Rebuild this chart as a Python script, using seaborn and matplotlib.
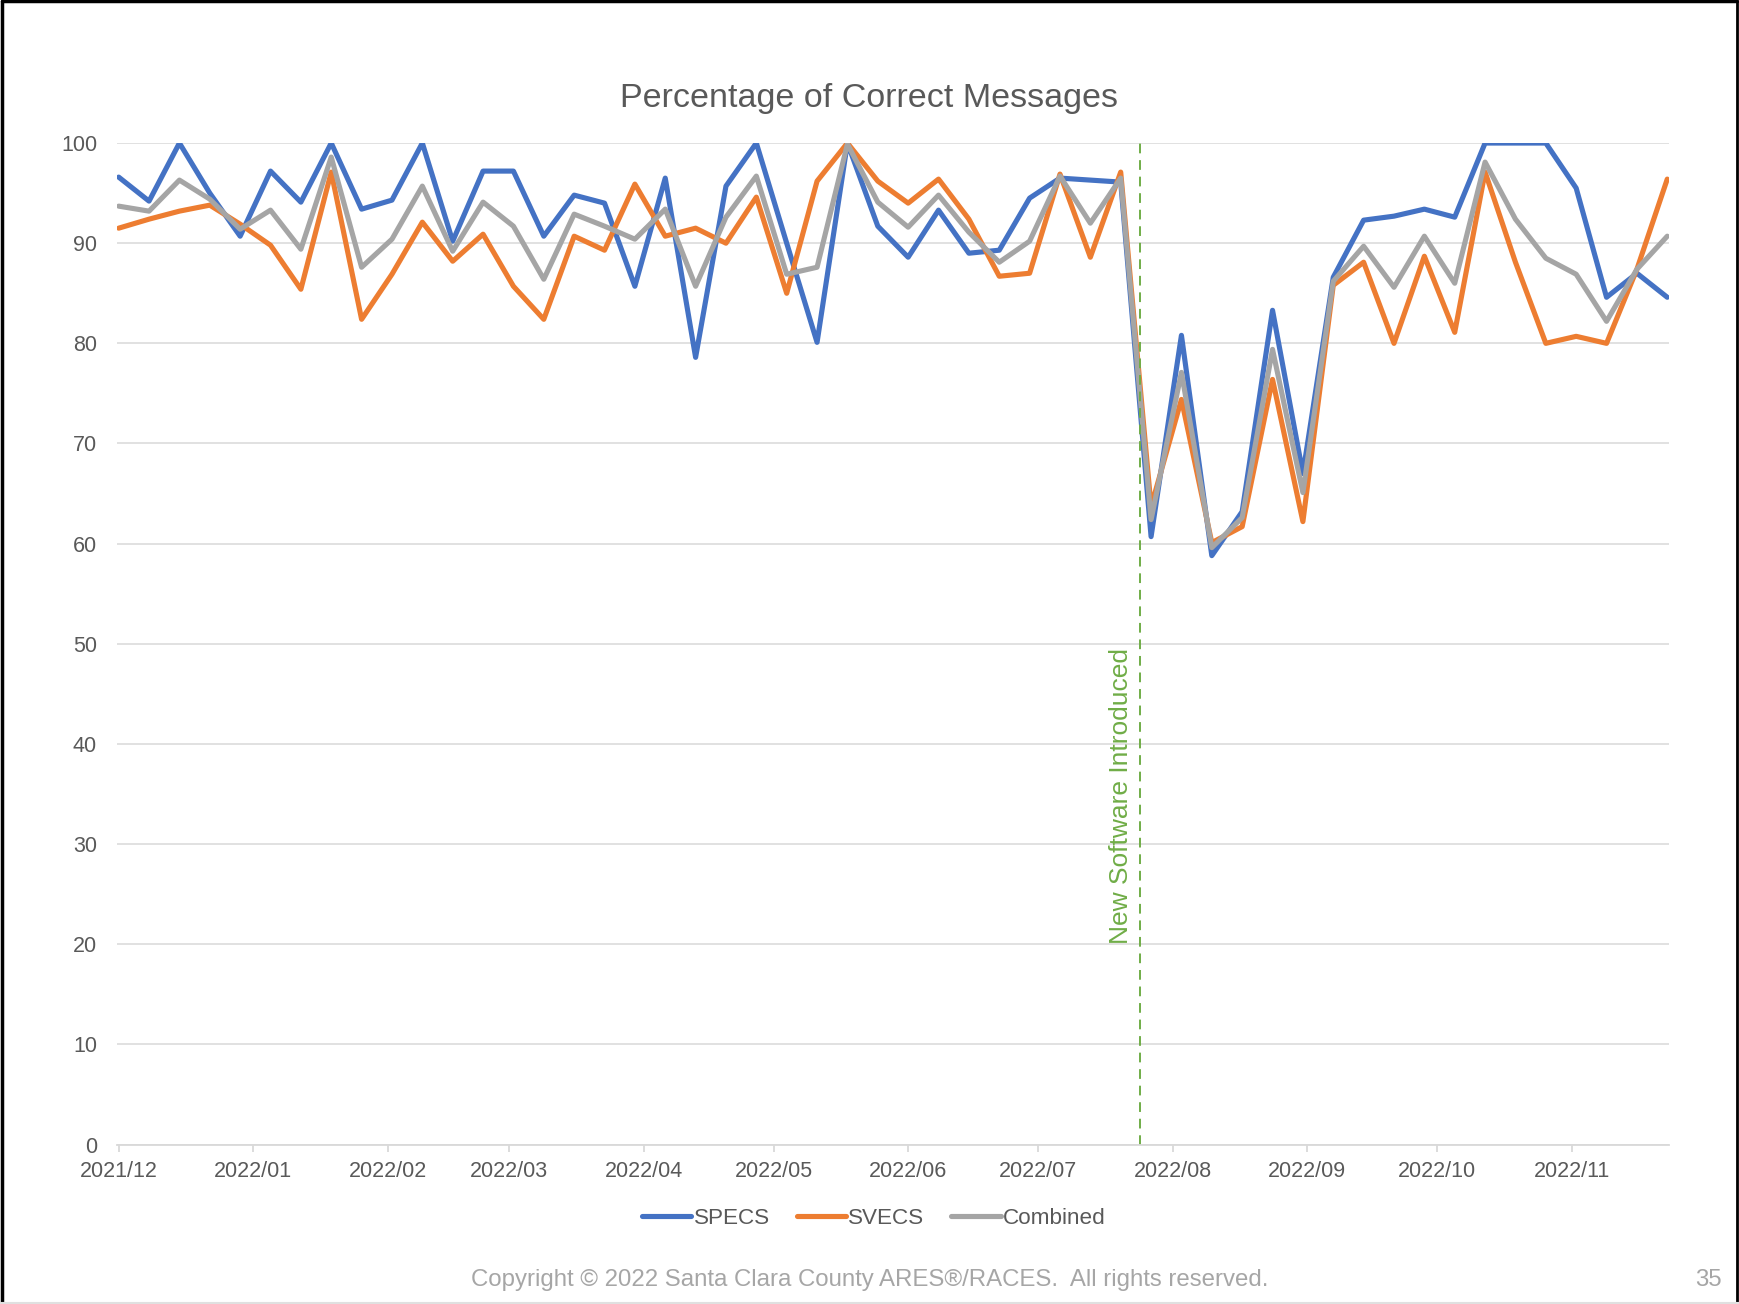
import matplotlib
matplotlib.use("Agg")
import matplotlib.pyplot as plt
import matplotlib.dates as mdates
from matplotlib.lines import Line2D
import pandas as pd
import seaborn as sns

# weekly samples, Dec 2021 - Nov 2022
weeks = pd.date_range("2021-12-01", periods=52, freq="7D")
specs = [96.6, 94.2, 100, 95.0, 90.7, 97.2, 94.1, 100, 93.4, 94.3,
         100, 90.2, 97.2, 97.2, 90.7, 94.8, 94.0, 85.7, 96.5, 78.6,
         95.7, 100, 90.0, 80.1, 100, 91.7, 88.6, 93.3, 89.0, 89.3,
         94.5, 96.5, 96.3, 96.1, 60.7, 80.8, 58.8, 63.2, 83.3, 67.0,
         86.6, 92.3, 92.7, 93.4, 92.6, 100, 100, 100, 95.5, 84.6,
         87.0, 84.6]
svecs = [91.5, 92.4, 93.2, 93.8, 91.9, 89.8, 85.4, 97.1, 82.4, 86.9,
         92.1, 88.2, 90.9, 85.7, 82.4, 90.7, 89.3, 95.9, 90.7, 91.5,
         90.0, 94.6, 85.0, 96.2, 100, 96.2, 94.0, 96.4, 92.4, 86.7,
         87.0, 96.9, 88.6, 97.1, 63.7, 74.4, 60.1, 61.7, 76.4, 62.2,
         85.8, 88.1, 80.0, 88.7, 81.1, 97.1, 88.1, 80.0, 80.7, 80.0,
         87.4, 96.4]
combined = [93.7, 93.2, 96.3, 94.4, 91.4, 93.3, 89.4, 98.6, 87.6, 90.4,
            95.7, 89.2, 94.1, 91.7, 86.4, 92.9, 91.7, 90.4, 93.4, 85.7,
            92.6, 96.7, 86.9, 87.6, 99.9, 94.1, 91.6, 94.8, 91.1, 88.1,
            90.2, 96.7, 92.0, 96.5, 62.4, 77.1, 59.6, 62.6, 79.4, 65.1,
            86.2, 89.7, 85.6, 90.7, 86.0, 98.1, 92.4, 88.5, 86.9, 82.2,
            87.4, 90.7]
series_names = ["SPECS", "SVECS", "Combined"]
software_date = pd.Timestamp("2022-07-24 10:00")
software_label = "New Software Introduced"

df = pd.DataFrame({"week": list(weeks) * 3,
                   "pct": specs + svecs + combined,
                   "series": [n for n in series_names for _ in range(len(weeks))]})

sns.set_style("white")
plt.rcParams["font.family"] = ["Liberation Sans", "DejaVu Sans"]
txt = "#595959"
grid = "#D9D9D9"
colors = ["#4472C4", "#ED7D31", "#A5A5A5"]
lw = 3.7

fig = plt.figure(figsize=(17.39, 13.04), dpi=100)
ax = fig.add_axes([0.067, 0.1223, 0.893, 0.768])

sns.lineplot(data=df, x="week", y="pct", hue="series", hue_order=series_names,
             palette=colors, linewidth=lw, ax=ax, legend=False,
             solid_joinstyle="round", solid_capstyle="round")

ax.set_ylim(0, 100)
ax.set_yticks(range(0, 101, 10))
ax.set_xlim(weeks[0] - pd.Timedelta(hours=12), weeks[-1] + pd.Timedelta(hours=12))
ax.xaxis.set_major_locator(mdates.MonthLocator())
ax.xaxis.set_major_formatter(mdates.DateFormatter("%Y/%m"))
ax.grid(axis="y", color=grid, linewidth=1.1)
ax.set_axisbelow(True)
for s in ["left", "right", "top"]:
    ax.spines[s].set_visible(False)
ax.spines["bottom"].set_color(grid)
ax.spines["bottom"].set_linewidth(1.3)
ax.tick_params(axis="x", colors=grid, length=5, width=1.3, pad=7,
               labelcolor=txt, labelsize=15.5, direction="out", bottom=True)
ax.tick_params(axis="y", length=0, pad=14, labelcolor=txt, labelsize=15.5)
ax.set_xlabel("")
ax.set_ylabel("")

ax.axvline(software_date, color="#70AD47", linewidth=1.4, linestyle=(0, (5, 3.5)))
ax.text(software_date - pd.Timedelta(days=1.6), 20, software_label, rotation=90,
        color="#70AD47", fontsize=19, ha="right", va="bottom")

fig.text(0.5, 0.9243, "Percentage of Correct Messages", ha="center", va="center",
         fontsize=24.5, color=txt)

handles = [Line2D([], [], color=c, linewidth=lw) for c in colors]
fig.legend(handles, series_names, loc="center", bbox_to_anchor=(0.5025, 0.0655),
           ncol=3, frameon=False, fontsize=16.2, handlelength=2.2,
           handletextpad=0.1, columnspacing=1.2, labelcolor=txt)

fig.text(0.5, 0.0185, "Copyright \u00a9 2022 Santa Clara County ARES\u00ae/RACES.  All rights reserved.",
         ha="center", va="center", fontsize=17.3, color="#A6A6A6")
fig.text(0.99, 0.0185, "35", ha="right", va="center", fontsize=17.3, color="#A6A6A6")

# slide frame
fig.add_artist(Line2D([0.001, 0.001], [0, 0.999], color="black", linewidth=2.5, transform=fig.transFigure))
fig.add_artist(Line2D([0.001, 0.999], [0.999, 0.999], color="black", linewidth=2.5, transform=fig.transFigure))
fig.add_artist(Line2D([0.999, 0.999], [0, 0.999], color="black", linewidth=2.0, transform=fig.transFigure))
fig.add_artist(Line2D([0, 1], [0.001, 0.001], color="#E0E0E0", linewidth=1.5, transform=fig.transFigure))

fig.savefig("out.png", dpi=100, facecolor="white")
